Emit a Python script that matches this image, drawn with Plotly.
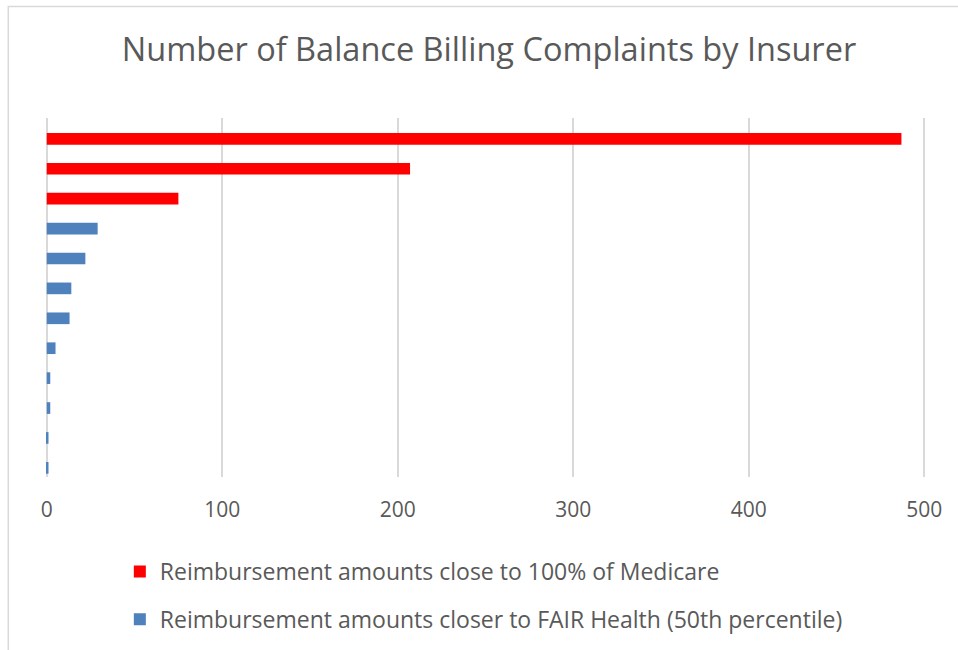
import plotly.graph_objects as go

insurers_medicare = ["Insurer 1", "Insurer 2", "Insurer 3"]
complaints_medicare = [487, 207, 75]

insurers_fair = ["Insurer 4", "Insurer 5", "Insurer 6", "Insurer 7", "Insurer 8",
                 "Insurer 9", "Insurer 10", "Insurer 11", "Insurer 12"]
complaints_fair = [29, 22, 14, 13, 5, 2, 2, 1, 1]

x_ticks = [0, 100, 200, 300, 400, 500]

FONT = "Open Sans"
GRAY = "#595959"
GRID = "#d9d9d9"

fig = go.Figure()
fig.add_trace(go.Bar(
    y=insurers_medicare, x=complaints_medicare, orientation="h",
    name="Reimbursement amounts close to 100% of Medicare",
    marker=dict(color="#ff0000", line=dict(width=0)),
    legendgroup="a", width=0.39, offset=0.0,
))
fig.add_trace(go.Bar(
    y=insurers_fair, x=complaints_fair, orientation="h",
    name="Reimbursement amounts closer to FAIR Health (50th percentile)",
    marker=dict(color="#4f81bd", line=dict(width=0)),
    legendgroup="b", width=0.39, offset=0.0,
))

W, H = 958, 650
L, R, T, B = 45.2, 32.2, 118, 173
pw = W - L - R
ph = H - T - B


def px_x(px):
    return (px - L) / pw


def px_y(py):
    return (H - B - py) / ph


fig.update_layout(
    width=W, height=H,
    margin=dict(l=L, r=R, t=T, b=B, pad=0, autoexpand=False),
    paper_bgcolor="white", plot_bgcolor="white",
    barmode="overlay",
    font=dict(family=FONT, color=GRAY),
    title=dict(
        text="Number of Balance Billing Complaints by Insurer",
        font=dict(family=FONT, size=32.5, color=GRAY),
        x=px_x(489), xref="paper", xanchor="center",
        y=1 - 50 / H, yref="container", yanchor="middle",
    ),
    xaxis=dict(
        range=[-1, 501], tickvals=x_ticks, ticktext=[str(v) for v in x_ticks],
        showgrid=True, gridcolor=GRID, gridwidth=1.5,
        zeroline=True, zerolinecolor=GRID, zerolinewidth=2,
        showline=False, ticks="", ticklabelstandoff=18,
        tickfont=dict(family=FONT, size=21, color=GRAY),
        fixedrange=True,
    ),
    yaxis=dict(
        categoryorder="array", categoryarray=insurers_medicare + insurers_fair,
        autorange="reversed", showticklabels=False, showgrid=False,
        zeroline=False, showline=False, ticks="", fixedrange=True,
    ),
    legend=dict(
        orientation="v", x=px_x(120), xanchor="left",
        y=1 - 550 / H, yref="container", yanchor="top",
        traceorder="grouped", tracegroupgap=15,
        font=dict(family=FONT, size=23, color=GRAY),
        bgcolor="rgba(0,0,0,0)",
    ),
    shapes=[dict(
        type="rect", xref="paper", yref="paper",
        x0=px_x(8.5), x1=px_x(970), y0=px_y(670), y1=px_y(6.5),
        line=dict(color=GRID, width=1.5), fillcolor="rgba(0,0,0,0)",
        layer="below",
    )],
)

fig.write_html("out.html", config={"displayModeBar": False},
               post_script="document.body.style.margin='0';")
